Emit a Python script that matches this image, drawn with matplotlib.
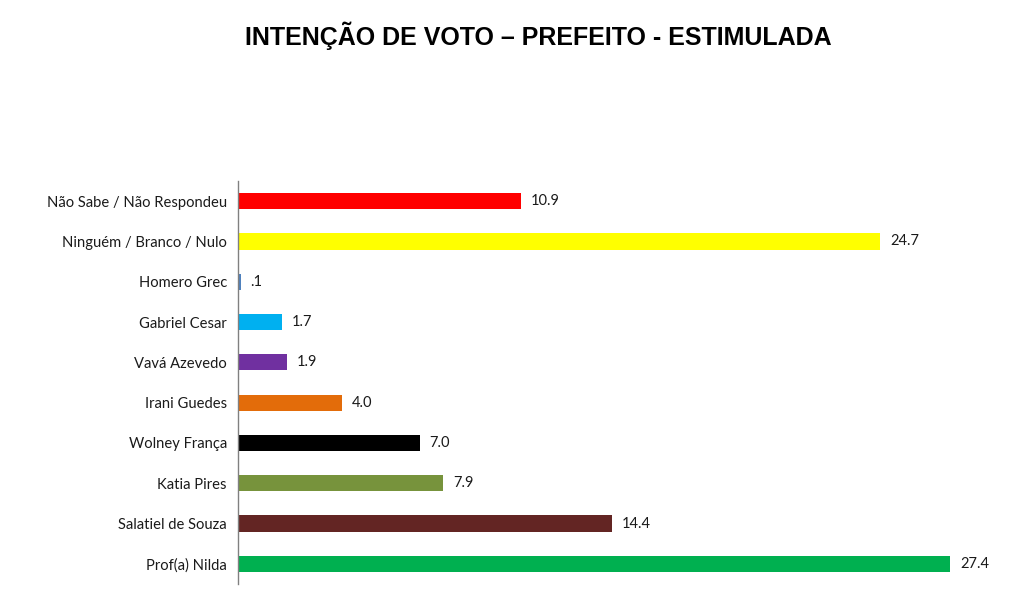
import matplotlib
matplotlib.use("Agg")
import matplotlib.pyplot as plt

# data, top to bottom as shown in the chart
categories = [
    "Não Sabe / Não Respondeu",
    "Ninguém / Branco / Nulo",
    "Homero Grec",
    "Gabriel Cesar",
    "Vavá Azevedo",
    "Irani Guedes",
    "Wolney França",
    "Katia Pires",
    "Salatiel de Souza",
    "Prof(a) Nilda",
]
values = [10.9, 24.7, 0.1, 1.7, 1.9, 4.0, 7.0, 7.9, 14.4, 27.4]
value_labels = ["10.9", "24.7", ".1", "1.7", "1.9", "4.0", "7.0", "7.9", "14.4", "27.4"]
colors = ["#FF0000", "#FFFF00", "#4F81BD", "#00B0F0", "#7030A0",
          "#E36C0A", "#000000", "#77933C", "#632523", "#00B050"]

LABEL_FONT = ["Lato", "DejaVu Sans"]

fig = plt.figure(figsize=(10.24, 5.93), dpi=100, facecolor="white")
ax = fig.add_axes([238 / 1024, 9 / 593, 780 / 1024, 403 / 593])

n = len(categories)
ypos = list(range(n - 1, -1, -1))
ax.barh(ypos, values, height=0.4, color=colors, edgecolor="none")

for y, v, lab in zip(ypos, values, value_labels):
    ax.annotate(lab, xy=(v, y), xytext=(7, 0), textcoords="offset points",
                ha="left", va="center", fontsize=10.5, family=LABEL_FONT,
                color="#1a1a1a")

ax.set_xlim(0, 30)
ax.set_ylim(-0.5, n - 0.5)
ax.set_yticks(ypos)
ax.set_yticklabels(categories, fontsize=10.6, family=LABEL_FONT, color="#1a1a1a")
ax.tick_params(axis="y", length=0, pad=8)
ax.set_xticks([])

for side in ["top", "right", "bottom"]:
    ax.spines[side].set_visible(False)
ax.spines["left"].set_color("#808080")
ax.spines["left"].set_linewidth(1.0)

fig.text(538 / 1024, 1 - 36 / 593, "INTENÇÃO DE VOTO – PREFEITO - ESTIMULADA",
         ha="center", va="center", fontsize=18, fontweight="bold",
         family=["Liberation Sans", "DejaVu Sans"], color="black")

fig.savefig("out.png", dpi=100, facecolor=fig.get_facecolor())
